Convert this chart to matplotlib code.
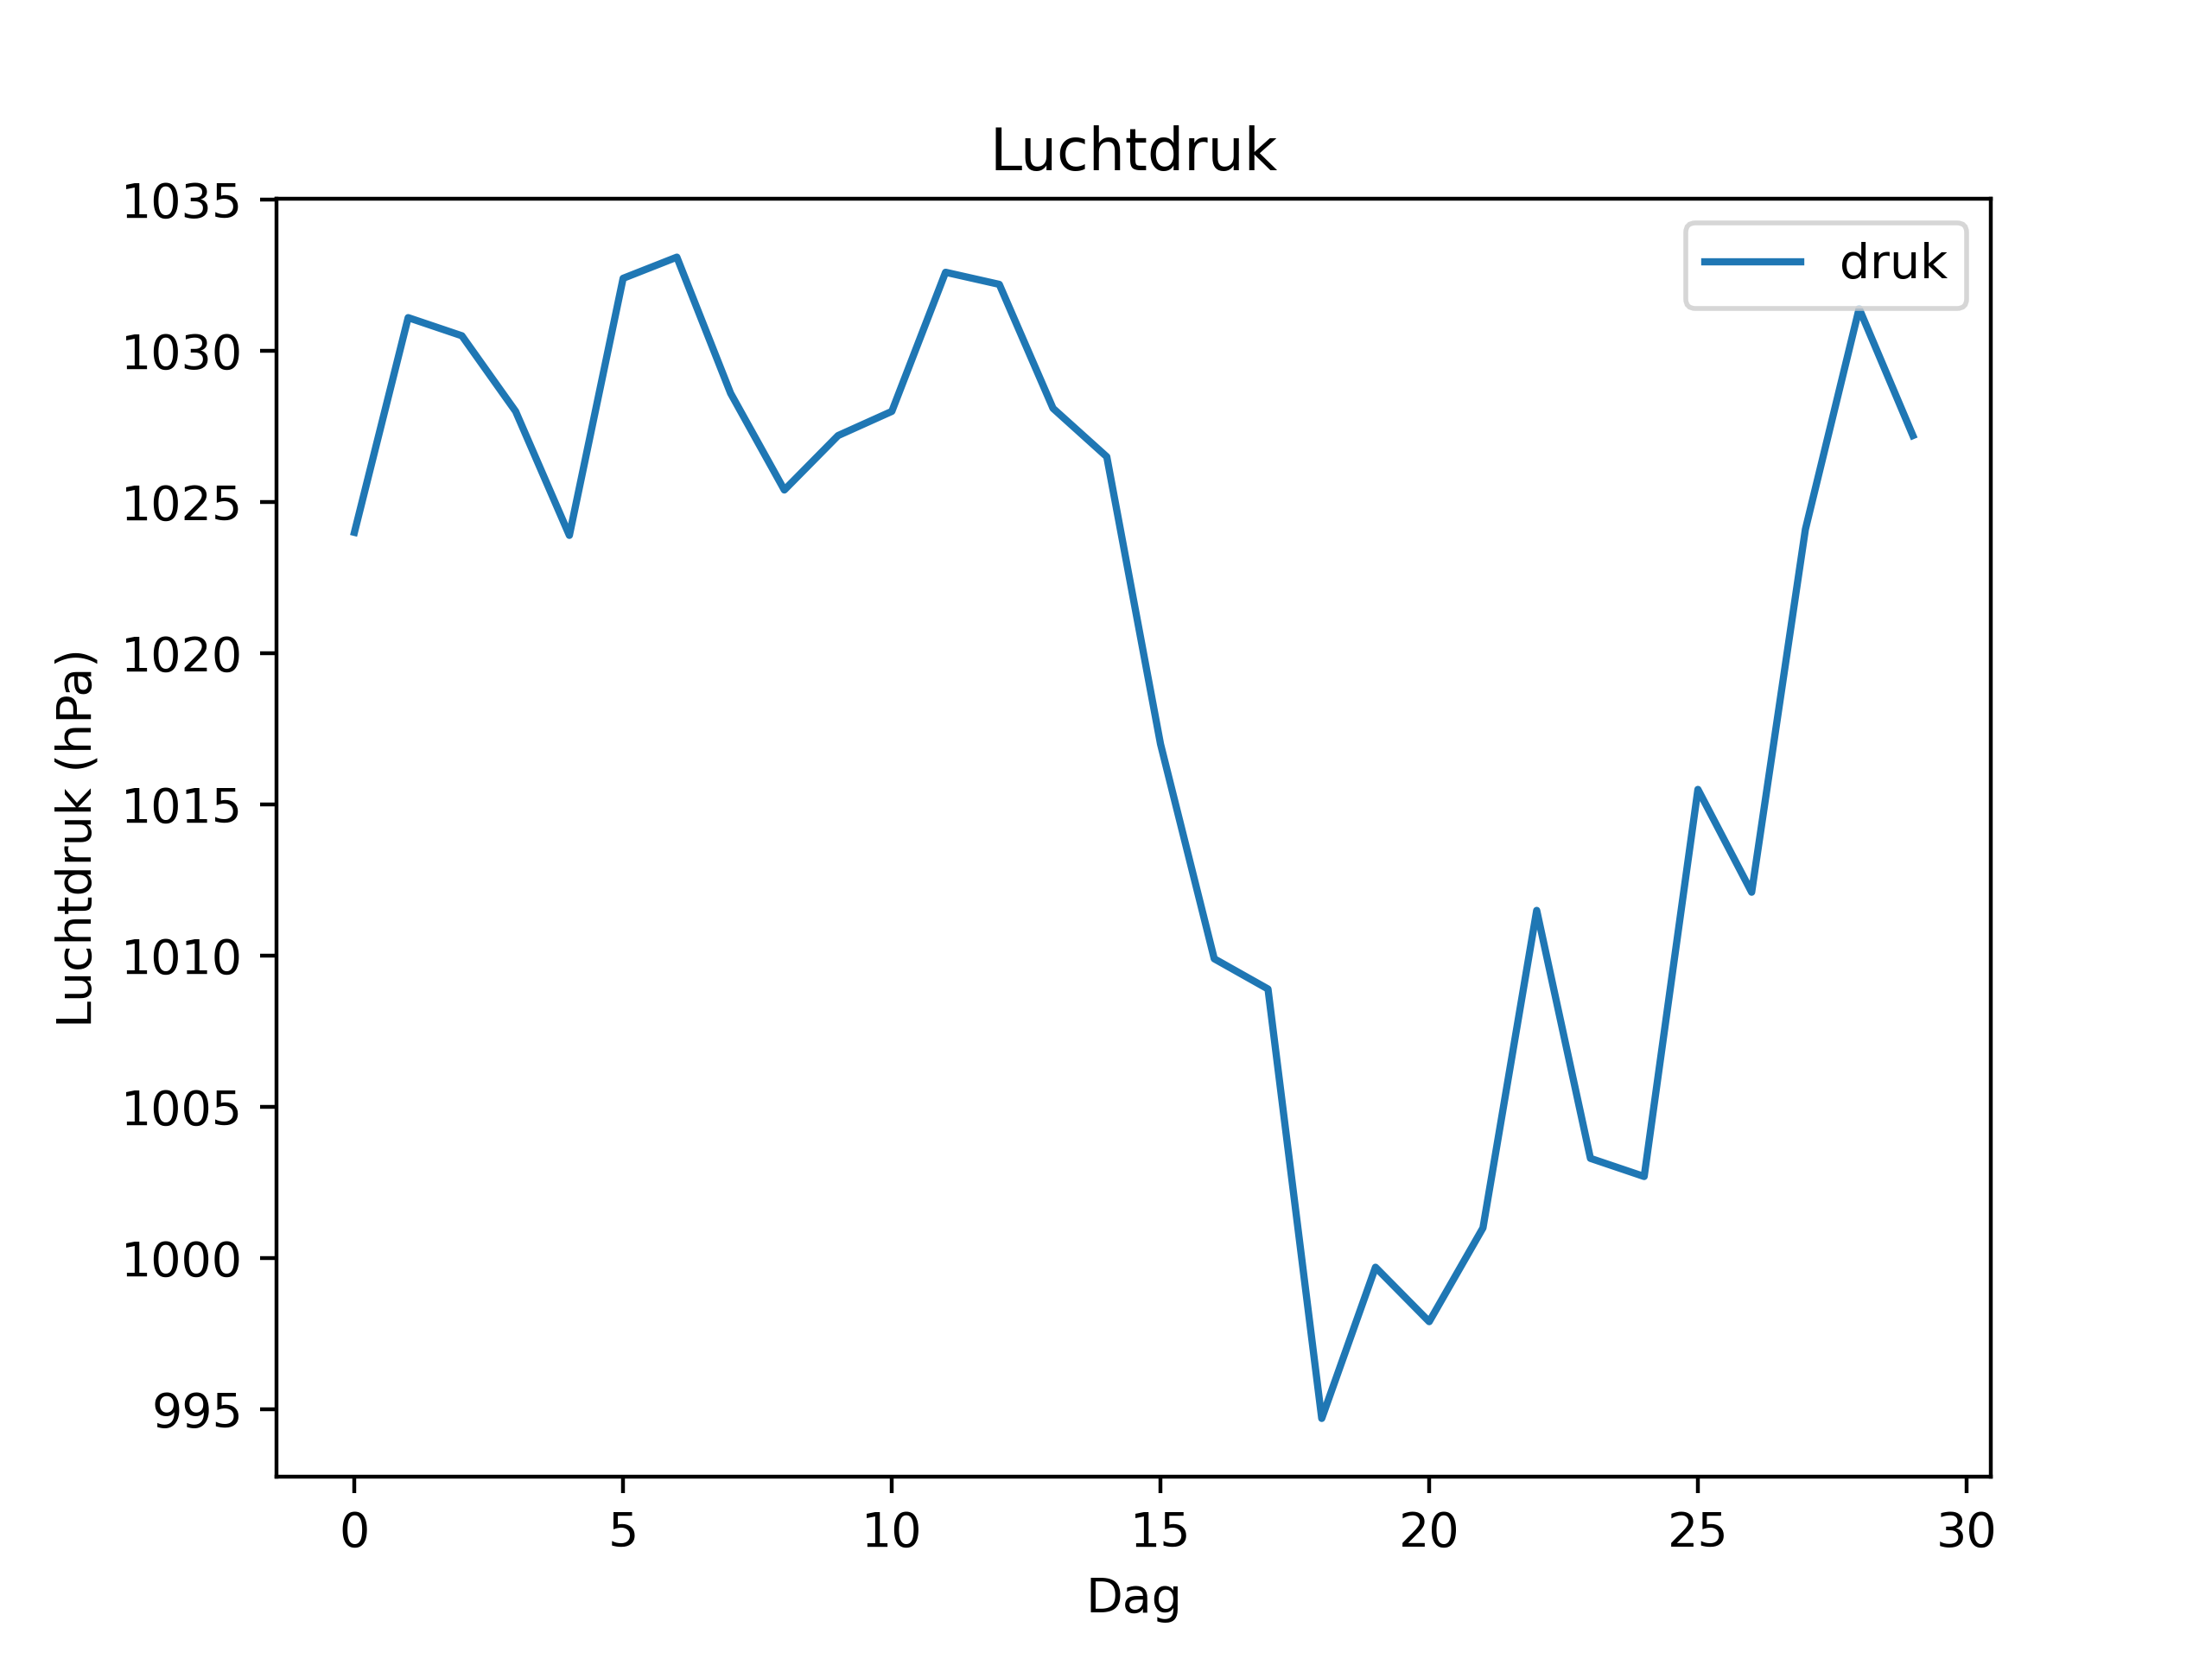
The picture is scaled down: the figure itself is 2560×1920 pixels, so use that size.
import matplotlib
matplotlib.use('Agg')
import matplotlib.pyplot as plt

# daily air pressure readings (hPa)
dagen = list(range(30))
druk = [1024.0, 1031.1, 1030.5, 1028.0, 1023.9, 1032.4, 1033.1, 1028.6, 1025.4, 1027.2,
        1028.0, 1032.6, 1032.2, 1028.1, 1026.5, 1017.0, 1009.9, 1008.9, 994.7, 999.7,
        997.9, 1001.0, 1011.5, 1003.3, 1002.7, 1015.5, 1012.1, 1024.1, 1031.4, 1027.2]

fig, ax = plt.subplots(figsize=(6.4, 4.8))
ax.plot(dagen, druk, label='druk')
ax.set_title('Luchtdruk')
ax.set_xlabel('Dag')
ax.set_ylabel('Luchtdruk (hPa)')
ax.legend()

plt.savefig('out.png', dpi=400)
